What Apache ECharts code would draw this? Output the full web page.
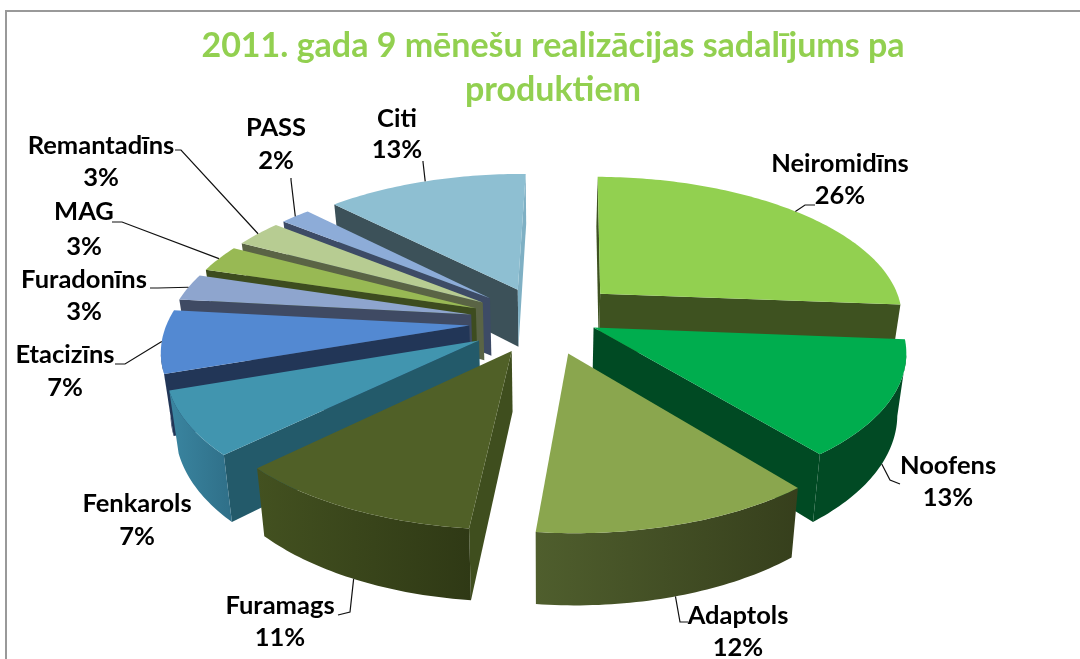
<!DOCTYPE html>
<html><head><meta charset="utf-8">
<style>html,body{margin:0;padding:0;background:#fff}#c{width:1080px;height:659px}</style>
<script src="https://cdn.jsdelivr.net/npm/echarts@6/dist/echarts.min.js"></script>
</head><body><div id="c"></div>
<script>
const categories = ['Neiromidīns','Noofens','Adaptols','Furamags','Fenkarols','Etacizīns','Furadonīns','MAG','Remantadīns','PASS','Citi'];
const values = [26,12.85,12.45,11.15,7,7,3,3,3,1.9,12.65];
const titleLines = ['2011. gada 9 mēnešu realizācijas sadalījums pa','produktiem'];
const topColors = ['#92D050','#00AD4E','#8AA64E','#506027','#4195AF','#5389D2','#8EA5CE','#98B954','#B7CC92','#8DACD8','#8EBFD2'];
const cutColors = ['#3E5220','#004A23','#3A451D','#3F4E1E','#235A6A','#223657','#3F4A63','#3D4C1F','#5A6445','#3D4B66','#3C5159'];
const arcColors = [['#3E5220','#3E5220'],['#014A24','#014A24'],['#4F5E2D','#363F1C'],['#435120','#2F3915'],['#3A85A0','#2F6F88'],['#223657','#223657'],['#3F4A63','#3F4A63'],['#3D4C1F','#3D4C1F'],['#5A6445','#5A6445'],['#3D4B66','#3D4B66'],['#3C5159','#3C5159']];
const layerOf = [1,2,3,11,10,9,8,7,6,5,4];
// how far each slice is pulled out of the pie, and how much that pull turns from its middle angle
const explodeBy = [0.275,0.164,0.23,0.228,0.25,0.25,0.25,0.25,0.25,0.25,0.25];
const explodeTurn = [-5,-13,-2,2,0,0,0,0,0,0,0];
// label layout: text centre x, first-line y, second-line y
const labelX = [840,948,738,280,137,65,84,84,101,276,397];
const labelY1 = [164,466,616,606,504,355,280,212,146,128,119];
const labelY2 = [196,498,648,638,537,388,312,247,178,161,150];
// leader: elbow points next to the label (none for Fenkarols); attach = share of wall height below the rim
const elbowA = [[815,205],[900,484],[688,622],[338,615],null,[115,364],[150,288],[112,222],[175,150],[291,178],[423,161]];
const elbowB = [[805,205],[890,480],[680,622],[350,612],null,[125,364],[158,288],[122,222],[181,150],[291,180],[423,162]];
const attach = [0,1,1,1,0,0,0,0,0,0,0];

// projection parameters of the tilted pie
const cx=545, cy=321.5, R=304, K=142, P=0.15, Q=0.005, H=59, ROT=1, BOTTOM=0.975;
const total = values.reduce((a,b)=>a+b,0);
const rad = d=>d*Math.PI/180;
function proj(X,Y,lower){
  const s = 1/(1-P*Y-Q*X);
  let x = cx + R*X*s, y = cy + K*Y*s;
  if(lower){ x = cx + (x-cx)*BOTTOM; y += H*s*lower; }
  return [x,y];
}
function sliceGeom(i){
  let acc=0; for(let j=0;j<i;j++) acc+=values[j];
  const a0=acc/total*360+ROT, a1=(acc+values[i])/total*360+ROT, am=(a0+a1)/2;
  const ad=am+explodeTurn[i];
  const ox=explodeBy[i]*Math.sin(rad(ad)), oy=-explodeBy[i]*Math.cos(rad(ad));
  const pt=(a)=>[ox+Math.sin(rad(a)), oy-Math.cos(rad(a))];
  return {a0,a1,am,ox,oy,pt};
}
function renderItem(params,api){
  const i=params.dataIndex, g=sliceGeom(i), kids=[];
  const z=layerOf[i]*10;
  const arcA=[]; const n=Math.max(6,Math.ceil(g.a1-g.a0));
  for(let k=0;k<=n;k++) arcA.push(g.a0+(g.a1-g.a0)*k/n);
  const top=arcA.map(a=>{const p=g.pt(a);return proj(p[0],p[1],0)});
  const bot=arcA.map(a=>{const p=g.pt(a);return proj(p[0],p[1],1)});
  const ap=proj(g.ox,g.oy,0), apB=proj(g.ox,g.oy,1);
  // cut walls
  if(top[0][0]<ap[0]) kids.push({type:'polygon',z2:z,shape:{points:[ap,top[0],bot[0],apB]},style:{fill:cutColors[i]}});
  if(top[n][0]>ap[0]) kids.push({type:'polygon',z2:z,shape:{points:[ap,top[n],bot[n],apB]},style:{fill:i===10?'#7FB0C4':cutColors[i]}});
  // outer wall: only the stretch facing the viewer
  const ft=[],fb=[];
  for(let k=0;k<=n;k++){
    const facing=(k<n&&top[k+1][0]<top[k][0])||(k>0&&top[k][0]<top[k-1][0]);
    if(facing){ft.push(top[k]);fb.push(bot[k]);}
  }
  if(ft.length>1){
    kids.push({type:'polygon',z2:z+1,shape:{points:ft.concat(fb.reverse())},
      style:{fill:new echarts.graphic.LinearGradient(0,0,1,0,[{offset:0,color:arcColors[i][0]},{offset:1,color:arcColors[i][1]}])}});
  }
  kids.push({type:'polygon',z2:z+2,shape:{points:[ap].concat(top)},style:{fill:topColors[i]}});
  // leader line from the label to the rim or wall foot of the slice
  if(elbowA[i]){
    const p=g.pt(g.am), end=proj(p[0],p[1],attach[i]);
    kids.push({type:'polyline',z2:300,shape:{points:[elbowA[i],elbowB[i],end]},style:{fill:null,stroke:'#111',lineWidth:1.2}});
  }
  const font='bold 25.5px Lato, Carlito, sans-serif';
  kids.push({type:'text',z2:301,style:{text:categories[i],x:labelX[i],y:labelY1[i],align:'center',verticalAlign:'middle',font,fill:'#000'}});
  kids.push({type:'text',z2:301,style:{text:Math.round(api.value(0)/total*100)+'%',x:labelX[i],y:labelY2[i],align:'center',verticalAlign:'middle',font,fill:'#000'}});
  return {type:'group',children:kids};
}
const chart=echarts.init(document.getElementById('c'),null,{renderer:'canvas'});
chart.setOption({
  animation:false,
  backgroundColor:'#fff',
  title:{text:titleLines.join('\n'),left:548,top:19,textAlign:'center',textStyle:{color:'#92D050',fontFamily:'Lato, Carlito, sans-serif',fontWeight:'bold',fontSize:34,lineHeight:44}},
  graphic:[{type:'polyline',silent:true,shape:{points:[[6,659],[6,11],[1080,11]]},style:{fill:null,stroke:'#999',lineWidth:2}}],
  series:[{type:'custom',coordinateSystem:'none',renderItem,data:values.map(v=>[v]),silent:true,clip:false}]
});
</script></body></html>
